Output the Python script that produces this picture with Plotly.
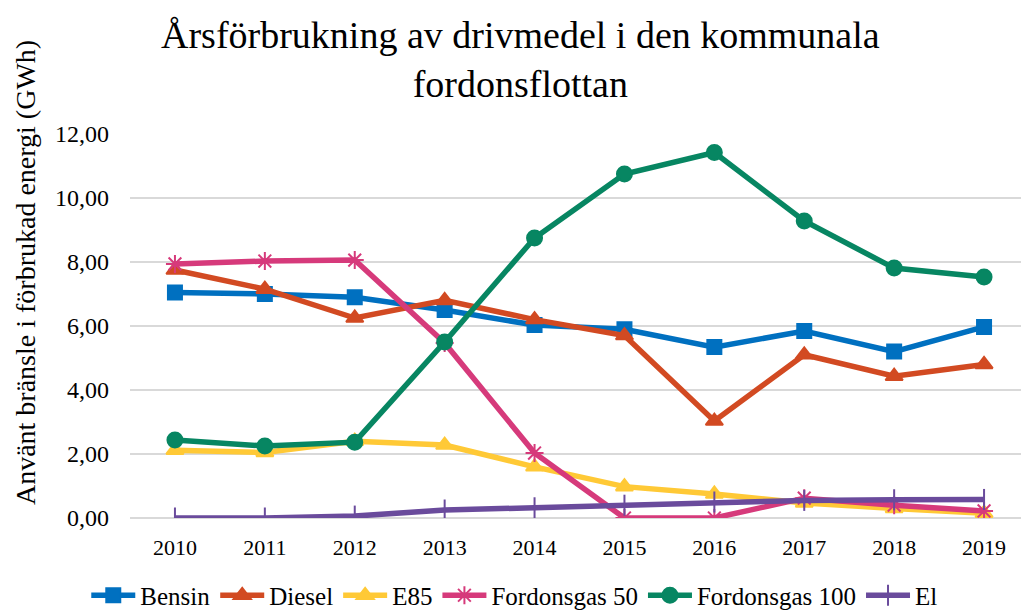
import plotly.graph_objects as go

years = ["2010", "2011", "2012", "2013", "2014", "2015", "2016", "2017", "2018", "2019"]
bensin = [7.05, 7.00, 6.90, 6.50, 6.03, 5.90, 5.34, 5.84, 5.20, 5.97]
diesel = [7.75, 7.15, 6.25, 6.80, 6.20, 5.70, 3.03, 5.10, 4.43, 4.80]
e85 = [2.12, 2.05, 2.40, 2.28, 1.60, 0.98, 0.75, 0.47, 0.30, 0.15]
fg50 = [7.94, 8.03, 8.06, 5.47, 2.03, 0.00, 0.00, 0.62, 0.40, 0.22]
fg100 = [2.44, 2.25, 2.37, 5.50, 8.75, 10.75, 11.42, 9.28, 7.81, 7.53]
el = [0.00, 0.00, 0.06, 0.25, 0.32, 0.40, 0.50, 0.55, 0.57, 0.58]

series = [
    ("Bensin", bensin, "#0070C0", "square", 14),
    ("Diesel", diesel, "#D24A22", "triangle-up", 15),
    ("E85", e85, "#FFC936", "triangle-up", 15),
    ("Fordonsgas 50", fg50, "#D63A7B", "asterisk-open", 15),
    ("Fordonsgas 100", fg100, "#078662", "circle", 15),
    ("El", el, "#6A4B9C", "line-ns-open", 15),
]

fig = go.Figure()
for name, vals, color, sym, size in series:
    fig.add_trace(go.Scatter(
        x=years, y=vals, name=name, mode="lines+markers",
        line=dict(color=color, width=5.5),
        marker=dict(symbol=sym, size=size, color=color,
                    line=dict(color=color, width=2)),
    ))

ff = "'Liberation Serif', 'Times New Roman', serif"
fig.update_layout(
    width=1021, height=607,
    paper_bgcolor="white", plot_bgcolor="white",
    separators=", ",
    font=dict(family=ff, color="black", size=22),
    margin=dict(l=122, r=0, t=126, b=97, autoexpand=False),
    showlegend=True,
    legend=dict(orientation="h", x=0.428, xanchor="center", y=-0.142, yanchor="top",
                font=dict(size=25, family=ff, color="black"), itemwidth=44,
                tracegroupgap=0, traceorder="normal"),
    xaxis=dict(type="category", range=[-0.5, 9.5], showgrid=False,
               showline=False, ticks="", ticklabelstandoff=14,
               tickfont=dict(size=22, family=ff, color="black")),
    yaxis=dict(range=[0, 12], dtick=2, tickformat=".2f", showgrid=True,
               gridcolor="#D9D9D9", gridwidth=2, zeroline=True,
               zerolinecolor="#D9D9D9", zerolinewidth=2,
               showline=False, ticks="", ticklabelstandoff=20,
               tickfont=dict(size=24, family=ff, color="black")),
    annotations=[
        dict(text="Årsförbrukning av drivmedel i den kommunala<br>fordonsflottan",
             xref="paper", yref="paper", x=0.434, y=1.317,
             xanchor="center", yanchor="top", showarrow=False,
             font=dict(size=38, family=ff, color="black")),
        dict(text="Använt bränsle i förbrukad energi (GWh)",
             textangle=-90, xref="paper", yref="paper",
             x=-0.117, y=0.64, xanchor="center", yanchor="middle",
             showarrow=False, font=dict(size=28, family=ff, color="black")),
    ],
)

fig.write_html("out.html")
